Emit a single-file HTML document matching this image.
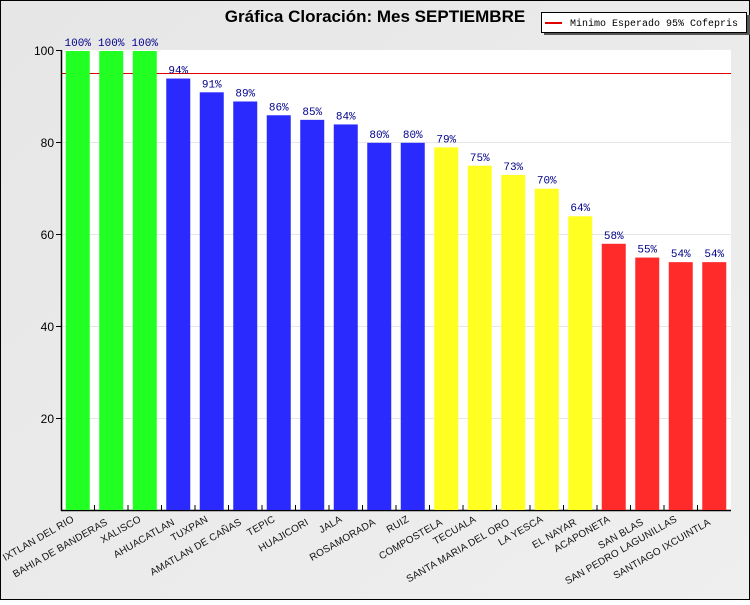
<!DOCTYPE html>
<html><head><meta charset="utf-8"><style>
html,body{margin:0;padding:0}
body{width:750px;height:600px;overflow:hidden}
</style></head><body>
<svg width="750" height="600" xmlns="http://www.w3.org/2000/svg" font-family="Liberation Sans, sans-serif">
<defs><linearGradient id="bg" x1="0" y1="0" x2="1" y2="1"><stop offset="0" stop-color="#e6e6e6"/><stop offset="1" stop-color="#efefef"/></linearGradient></defs>
<rect x="0.5" y="0.5" width="749" height="599" fill="url(#bg)" stroke="#000"/>
<rect x="61" y="50" width="670" height="460" fill="#fff"/>
<g stroke="#e6e6e6" stroke-width="1">
<line x1="61" y1="142.5" x2="731" y2="142.5"/><line x1="61" y1="234.5" x2="731" y2="234.5"/><line x1="61" y1="326.5" x2="731" y2="326.5"/><line x1="61" y1="418.5" x2="731" y2="418.5"/>
</g>
<text x="375" y="22" text-anchor="middle" font-size="17" font-weight="bold">Gráfica Cloración: Mes SEPTIEMBRE</text>
<line x1="61" y1="73.5" x2="731" y2="73.5" stroke="#e00000" stroke-width="1"/>
<line x1="61.5" y1="50" x2="61.5" y2="511" stroke="#000" stroke-width="1.5"/>
<line x1="61" y1="510.5" x2="731" y2="510.5" stroke="#000" stroke-width="1.5"/>
<g font-size="12" text-anchor="end">
<text x="54" y="55">100</text><text x="54" y="147">80</text><text x="54" y="239">60</text><text x="54" y="331">40</text><text x="54" y="423">20</text>
</g>
<g stroke="#000"><line x1="56" y1="50.5" x2="61" y2="50.5"/><line x1="56" y1="142.5" x2="61" y2="142.5"/><line x1="56" y1="234.5" x2="61" y2="234.5"/><line x1="56" y1="326.5" x2="61" y2="326.5"/><line x1="56" y1="418.5" x2="61" y2="418.5"/></g>
<g id="g"></g>
<rect x="544" y="15" width="206" height="20" fill="#555"/>
<rect x="541.5" y="12.5" width="205" height="20" fill="#fff" stroke="#000"/>
<line x1="545" y1="23" x2="562" y2="23" stroke="#e00000" stroke-width="2"/>
<text x="570" y="26" font-family="Liberation Mono, monospace" font-size="10">Minimo Esperado 95% Cofepris</text>
</svg>
<script>
var d=[["IXTLAN DEL RIO",100,"#22ff22"],["BAHIA DE BANDERAS",100,"#22ff22"],["XALISCO",100,"#22ff22"],["AHUACATLAN",94,"#2a2aff"],["TUXPAN",91,"#2a2aff"],["AMATLAN DE CAÑAS",89,"#2a2aff"],["TEPIC",86,"#2a2aff"],["HUAJICORI",85,"#2a2aff"],["JALA",84,"#2a2aff"],["ROSAMORADA",80,"#2a2aff"],["RUIZ",80,"#2a2aff"],["COMPOSTELA",79,"#ffff22"],["TECUALA",75,"#ffff22"],["SANTA MARIA DEL ORO",73,"#ffff22"],["LA YESCA",70,"#ffff22"],["EL NAYAR",64,"#ffff22"],["ACAPONETA",58,"#ff2a2a"],["SAN BLAS",55,"#ff2a2a"],["SAN PEDRO LAGUNILLAS",54,"#ff2a2a"],["SANTIAGO IXCUINTLA",54,"#ff2a2a"]];
var s="";
d.forEach(function(r,i){var c=61+33.5*(i+0.5),y=510-r[1]*4.59;
s+='<rect x="'+(c-12)+'" y="'+y+'" width="24" height="'+(510-y)+'" fill="'+r[2]+'"/>';
s+='<text x="'+c+'" y="'+(y-5)+'" text-anchor="middle" font-family="Liberation Mono, monospace" font-size="11" fill="#00008b">'+r[1]+'%</text>';
if(i>0)s+='<line x1="'+(61+33.5*i)+'" y1="505" x2="'+(61+33.5*i)+'" y2="510" stroke="#000"/>';
var ty=i%2?524:521;
s+='<text x="'+(c-3)+'" y="'+ty+'" text-anchor="end" font-size="10" letter-spacing="0.2" fill="#111" transform="rotate(-30 '+(c-3)+' '+ty+')">'+r[0]+'</text>';});
document.getElementById("g").outerHTML='<g>'+s+'</g>';
</script>
</body></html>
